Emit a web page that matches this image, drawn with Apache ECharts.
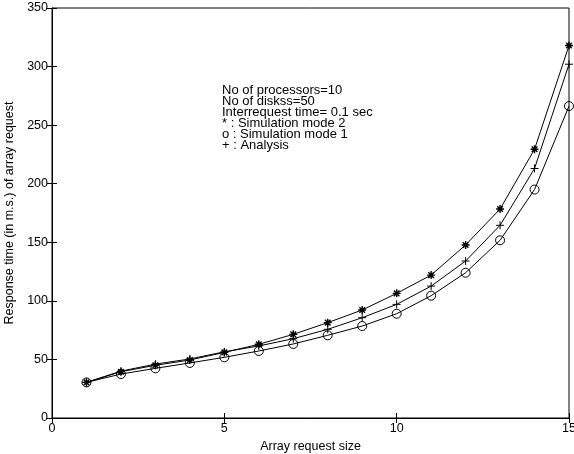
<!DOCTYPE html>
<html>
<head>
<meta charset="utf-8" />
<title>Response time</title>
<script src="https://cdn.jsdelivr.net/npm/echarts@6/dist/echarts.min.js"></script>
<style>
  html, body { margin: 0; padding: 0; background: #fff; }
</style>
</head>
<body>
<div id="main" style="width: 574px;height:454px;"></div>
<script>
    var sizes = [1, 2, 3, 4, 5, 6, 7, 8, 9, 10, 11, 12, 13, 14, 15];
    // * : Simulation mode 2
    var simMode2 = [30.4, 39.5, 45, 49.5, 56, 62.9, 71.4, 81.4, 92.2, 106.4, 122, 147.7, 178.4, 229.4, 318];
    // o : Simulation mode 1
    var simMode1 = [30.4, 37.5, 42.4, 47, 51.8, 57.2, 63.2, 70.6, 78.5, 89, 104.4, 124, 151.7, 195, 266.3];
    // + : Analysis
    var analysis = [30.4, 40, 46, 50.4, 56.5, 61.5, 67.7, 75.7, 85.6, 97, 112.6, 134, 164.5, 213, 302];

    var noteLines = [
        'No of processors=10',
        'No of diskss=50',
        'Interrequest time= 0.1 sec',
        '* : Simulation mode 2',
        'o : Simulation mode 1',
        '+ : Analysis'
    ];

    var starPath = 'path://M0,-1L0,1M-1,0L1,0M-0.7,-0.7L0.7,0.7M-0.7,0.7L0.7,-0.7';
    var plusPath = 'path://M0,-1L0,1M-1,0L1,0';

    function pairs(vals) {
        return sizes.map(function (x, i) { return [x, vals[i]]; });
    }

    var myChart = echarts.init(document.getElementById('main'));
    var font = 'Liberation Sans, Arial, sans-serif';

    function lineSeries(name, vals, symbol, size, bw) {
        return {
            name: name,
            type: 'line',
            data: pairs(vals),
            symbol: symbol,
            symbolSize: size,
            showAllSymbol: true,
            lineStyle: { color: '#000', width: 1 },
            itemStyle: { color: 'transparent', borderColor: '#000', borderWidth: bw },
            emphasis: { disabled: true },
            animation: false
        };
    }

    var option = {
        animation: false,
        grid: {
            left: 52, right: 5, top: 8, bottom: 36,
            outerBoundsMode: 'none',
            containLabel: false,
            show: true, borderColor: '#000', borderWidth: 1
        },
        xAxis: [{
            type: 'value', min: 0, max: 15, interval: 5,
            name: 'Array request size', nameLocation: 'middle', nameGap: 21,
            nameTextStyle: { color: '#000', fontSize: 12.5, fontFamily: font },
            axisLine: { lineStyle: { color: '#000' } },
            axisTick: { inside: true, length: 5, lineStyle: { color: '#000' } },
            axisLabel: { color: '#000', fontSize: 12.5, fontFamily: font, margin: 4 },
            splitLine: { show: false }
        }, {
            type: 'value', min: 0, max: 15, interval: 5, position: 'top',
            axisLine: { lineStyle: { color: '#000' } },
            axisTick: { inside: true, length: 5, lineStyle: { color: '#000' } },
            axisLabel: { show: false },
            splitLine: { show: false }
        }],
        yAxis: [{
            type: 'value', min: 0, max: 350, interval: 50,
            name: 'Response time (in m.s.) of array request', nameLocation: 'middle', nameGap: 26,
            nameTextStyle: { color: '#000', fontSize: 12.5, fontFamily: font },
            axisLine: { lineStyle: { color: '#000' } },
            axisTick: { inside: true, length: 5, lineStyle: { color: '#000' } },
            axisLabel: { color: '#000', fontSize: 12.5, fontFamily: font, margin: 4 },
            splitLine: { show: false }
        }, {
            type: 'value', min: 0, max: 350, interval: 50, position: 'right',
            axisLine: { lineStyle: { color: '#000' } },
            axisTick: { inside: true, length: 5, lineStyle: { color: '#000' } },
            axisLabel: { show: false },
            splitLine: { show: false }
        }],
        graphic: [{
            type: 'text',
            left: 222, top: 84,
            style: {
                text: noteLines.join('\n'),
                fill: '#000',
                font: '13px ' + font,
                lineHeight: 11
            }
        }],
        series: [
            lineSeries('Simulation mode 2', simMode2, starPath, 8, 1.4),
            lineSeries('Simulation mode 1', simMode1, 'circle', 9, 1),
            lineSeries('Analysis', analysis, plusPath, 8, 1)
        ]
    };

    myChart.setOption(option);
</script>
</body>
</html>
